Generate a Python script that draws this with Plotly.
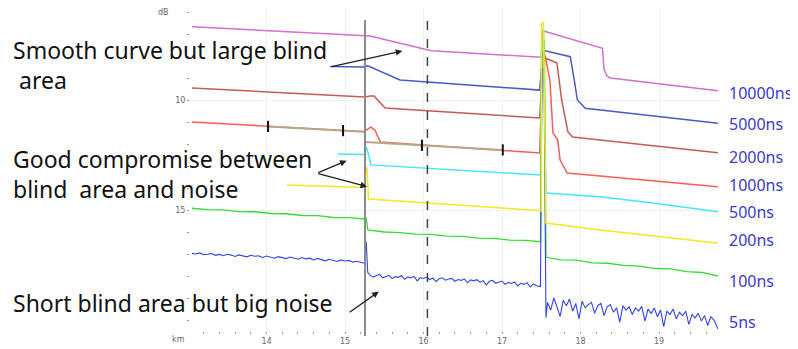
import plotly.graph_objects as go

# ---------------- data (km, dB) ----------------
km_10000 = [13.05, 15.25, 15.32, 16.10, 17.50, 17.515, 17.53, 18.28, 18.30, 18.34, 18.38, 19.75]
db_10000 = [6.67, 7.08, 7.09, 7.76, 8.06, 6.85, 6.86, 7.65, 8.60, 8.92, 9.00, 9.58]

km_5000 = [14.81, 15.22, 15.29, 15.70, 17.48, 17.52, 17.55, 17.87, 17.92, 17.96, 18.06, 19.75]
db_5000 = [8.48, 8.50, 8.45, 9.09, 9.55, 7.82, 7.76, 8.03, 9.09, 10.00, 10.38, 11.06]

km_2000 = [13.05, 15.25, 15.32, 15.37, 15.51, 17.48, 17.52, 17.55, 17.70, 17.76, 17.84, 17.90, 18.25, 19.75]
db_2000 = [9.45, 9.86, 9.82, 9.82, 10.36, 10.82, 8.18, 8.09, 8.32, 10.00, 11.45, 11.68, 11.82, 12.40]

km_1000 = [13.05, 15.25, 15.29, 15.33, 15.38, 15.45, 17.48, 17.52, 17.55, 17.61, 17.65, 17.71, 17.74, 17.83, 18.25, 19.75]
db_1000 = [11.00, 11.44, 11.32, 11.23, 11.36, 11.91, 12.41, 8.09, 8.00, 9.09, 11.50, 11.82, 12.73, 13.32, 13.45, 13.94]

km_marker = [14.02, 15.255, None, 15.255, 17.01]
db_marker = [11.20, 11.44, None, 11.91, 12.27]
km_marker_ticks = [14.02, 14.975, 15.98, 17.01]
db_marker_ticks = [11.20, 11.39, 12.06, 12.27]

km_500 = [14.91, 15.25, 15.27, 15.29, 15.33, 16.40, 17.49, 17.505, 17.53, 17.56, 18.25, 19.00, 19.75]
db_500 = [12.46, 12.48, 12.14, 12.36, 12.95, 13.18, 13.41, 6.82, 6.82, 14.23, 14.40, 14.72, 15.08]

km_200 = [14.26, 15.25, 15.265, 15.28, 15.30, 16.40, 17.50, 17.505, 17.53, 17.56, 18.25, 19.00, 19.75]
db_200 = [13.86, 13.98, 13.09, 13.09, 14.50, 14.77, 15.03, 6.50, 6.50, 15.59, 15.91, 16.20, 16.51]

km_100 = [13.05, 13.25, 13.45, 13.65, 13.85, 14.05, 14.25, 14.45, 14.65, 14.85, 15.05, 15.25,
          15.27, 15.29, 15.50, 15.70, 15.90, 16.10, 16.30, 16.50, 16.70, 16.90, 17.10, 17.30, 17.49,
          17.51, 17.54, 17.56, 17.75, 17.95, 18.15, 18.35, 18.55, 18.75, 18.95, 19.15, 19.35, 19.55, 19.75]
db_100 = [14.92, 14.98, 14.99, 15.07, 15.08, 15.16, 15.17, 15.25, 15.26, 15.34, 15.35, 15.41,
          15.35, 15.91, 16.00, 16.03, 16.10, 16.11, 16.19, 16.20, 16.28, 16.29, 16.37, 16.38, 16.44,
          7.30, 7.30, 17.15, 17.27, 17.28, 17.40, 17.42, 17.52, 17.55, 17.66, 17.68, 17.80, 17.84, 18.00]

km_5 = [13.05, 13.10, 13.15, 13.20, 13.25, 13.30, 13.35, 13.40, 13.45, 13.50, 13.55, 13.60, 13.65,
        13.70, 13.75, 13.80, 13.85, 13.90, 13.95, 14.00, 14.05, 14.10, 14.15, 14.20, 14.25, 14.30,
        14.35, 14.40, 14.45, 14.50, 14.55, 14.60, 14.65, 14.70, 14.75, 14.80, 14.85, 14.90, 14.95,
        15.00, 15.05, 15.10, 15.15, 15.20, 15.25,
        15.27, 15.29,
        15.32, 15.36, 15.40, 15.44, 15.48, 15.52, 15.56, 15.60, 15.64, 15.68, 15.72, 15.76, 15.80,
        15.84, 15.88, 15.92, 15.96, 16.00, 16.04, 16.08, 16.12, 16.16, 16.20, 16.24, 16.28, 16.32,
        16.36, 16.40, 16.44, 16.48, 16.52, 16.56, 16.60, 16.64, 16.68, 16.72, 16.76, 16.80, 16.84,
        16.88, 16.92, 16.96, 17.00, 17.04, 17.08, 17.12, 17.16, 17.20, 17.24, 17.28, 17.32, 17.36,
        17.40, 17.44, 17.49,
        17.51, 17.535, 17.56,
        17.58, 17.62, 17.66, 17.70, 17.74, 17.78, 17.82, 17.86, 17.90, 17.94, 17.98, 18.02, 18.06,
        18.10, 18.14, 18.18, 18.22, 18.26, 18.30, 18.34, 18.38, 18.42, 18.46, 18.50, 18.54, 18.58,
        18.62, 18.66, 18.70, 18.74, 18.78, 18.82, 18.86, 18.90, 18.94, 18.98, 19.02, 19.06, 19.10,
        19.14, 19.18, 19.22, 19.26, 19.30, 19.34, 19.38, 19.42, 19.46, 19.50, 19.54, 19.58, 19.62,
        19.66, 19.70, 19.75]
db_5 = [16.97, 17.00, 16.95, 17.03, 17.01, 16.98, 17.06, 17.02, 17.08, 17.01, 17.05, 17.11, 17.04,
        17.07, 17.13, 17.06, 17.10, 17.08, 17.16, 17.09, 17.13, 17.19, 17.12, 17.15, 17.21, 17.14,
        17.18, 17.24, 17.16, 17.22, 17.19, 17.27, 17.20, 17.25, 17.31, 17.24, 17.28, 17.34, 17.27,
        17.32, 17.29, 17.37, 17.33, 17.39, 17.42,
        16.45, 17.85,
        17.96, 18.05, 17.98, 17.93, 18.08, 18.01, 17.97, 18.12, 18.03, 18.06, 17.98, 18.15, 18.04,
        18.09, 18.02, 18.22, 18.07, 18.11, 18.05, 18.16, 18.09, 18.26, 18.12, 18.08, 18.19, 18.14,
        18.11, 18.24, 18.16, 18.20, 18.13, 18.31, 18.18, 18.22, 18.17, 18.28, 18.21, 18.40, 18.24,
        18.20, 18.33, 18.27, 18.23, 18.38, 18.29, 18.34, 18.27, 18.45, 18.33, 18.38, 18.30, 18.50,
        18.36, 18.44, 18.48,
        8.60, 8.60, 19.90,
        19.20, 19.55, 19.00, 19.40, 19.85, 19.10, 19.35, 19.05, 19.60, 19.25, 19.95, 19.15, 19.45,
        19.30, 19.20, 19.70, 19.35, 19.25, 19.80, 19.40, 19.30, 19.65, 19.45, 20.10, 19.35, 19.55,
        19.40, 19.75, 19.45, 19.60, 19.38, 20.05, 19.50, 19.70, 19.45, 19.85, 19.55, 20.30, 19.60,
        19.75, 19.50, 19.95, 19.65, 19.80, 19.60, 20.20, 19.75, 19.90, 19.70, 20.05, 19.80, 20.25,
        19.85, 20.00, 20.40]

pulse_labels = ["10000ns", "5000ns", "2000ns", "1000ns", "500ns", "200ns", "100ns", "5ns"]
label_db = [9.70, 11.08, 12.58, 13.86, 15.11, 16.36, 18.21, 20.08]

notes = ["Smooth curve but large blind<br>&nbsp;area",
         "Good compromise between<br>blind&nbsp; area and noise",
         "Short blind area but big noise"]

x_ticks = [14, 15, 16, 17, 18, 19]
y_ticks = [10, 15]
event_km = 15.255
marker_km = 16.05

# ---------------- layout geometry (screen px; page body has an 8px margin) ----------------
OFF = 8
FW, FH = 790, 341
SL, SR, ST, SB = 190, 720, 8, 331          # plot area in screen pixels
L, T = SL - OFF, ST - OFF
R = FW - (SR - OFF)
B = FH - (SB - OFF)
PW, PH = SR - SL, SB - ST


def px(x):
    return (x - SL) / PW


def py(y):
    return 1 - (y - ST) / PH


fig = go.Figure()


def add_line(xs, ys, color, width=1.5):
    fig.add_trace(go.Scatter(x=xs, y=ys, mode="lines", line=dict(color=color, width=width),
                             hoverinfo="skip", showlegend=False, connectgaps=False))


add_line(km_10000, db_10000, "#d070d0")
add_line(km_5000, db_5000, "#4a58c8")
add_line(km_2000, db_2000, "#c85a55")
add_line(km_1000, db_1000, "#ff5a5a")
add_line(km_marker, db_marker, "#b5a888", 2)
fig.add_trace(go.Scatter(x=km_marker_ticks, y=db_marker_ticks, mode="markers",
                         marker=dict(symbol="line-ns", size=8, line=dict(color="#111", width=2)),
                         hoverinfo="skip", showlegend=False))
add_line(km_500, db_500, "#44e6ff")
add_line(km_100, db_100, "#33dd33", 1.3)
add_line(km_5, db_5, "#3344ee", 1.1)
add_line(km_200, db_200, "#f5e81e")

# vertical lines
fig.add_shape(type="line", xref="x", yref="paper", x0=event_km, x1=event_km,
              y0=py(336), y1=py(20), line=dict(color="#8a8a8a", width=2))
fig.add_shape(type="line", xref="x", yref="paper", x0=marker_km, x1=marker_km,
              y0=py(336), y1=py(20), line=dict(color="#444", width=1.5, dash="dash"))

# right-side pulse labels
for lab, yv in zip(pulse_labels, label_db):
    fig.add_annotation(x=px(727), xref="paper", y=yv, yref="y", text=lab, showarrow=False,
                       xanchor="left", yanchor="middle",
                       font=dict(family="Noto Sans", size=16, color="#3a3ad0"))

txt_font = dict(family="Noto Sans", size=23, color="#111")
for t, yc in zip(notes, [65, 174, 303]):
    fig.add_annotation(x=px(11), y=py(yc), xref="paper", yref="paper", text=t, showarrow=False,
                       xanchor="left", yanchor="middle", align="left", font=txt_font)

# arrows (tail -> head, data units)
arrows = [((14.81, 8.50), (15.73, 7.77)),
          ((14.64, 13.33), (15.02, 12.76)),
          ((14.64, 13.33), (15.28, 13.94)),
          ((15.04, 19.70), (15.43, 18.71))]
for (tx, ty), (hx, hy) in arrows:
    fig.add_annotation(x=hx, y=hy, ax=tx, ay=ty, xref="x", yref="y", axref="x", ayref="y",
                       text="", showarrow=True, arrowhead=2, arrowsize=1, arrowwidth=1.3,
                       arrowcolor="#222")

small = dict(family="DejaVu Sans", size=8, color="#666")
fig.add_annotation(x=px(178), y=py(339), xref="paper", yref="paper", text="km", showarrow=False,
                   font=small, xanchor="center", yanchor="middle")
fig.add_annotation(x=px(171), y=py(13), xref="paper", yref="paper", text="dB", showarrow=False,
                   font=small, xanchor="right", yanchor="middle")

fig.update_layout(
    width=FW, height=FH, margin=dict(l=L, r=R, t=T, b=B),
    plot_bgcolor="white", paper_bgcolor="white", showlegend=False,
    xaxis=dict(range=[13.0255, 19.7771], tickvals=x_ticks, ticks="outside", ticklen=2,
               tickcolor="#999", showgrid=True, gridcolor="#f1f1f1", zeroline=False,
               showline=False, tickfont=small,
               minor=dict(dtick=0.2, tick0=0, ticks="outside", ticklen=2, tickcolor="#999",
                          showgrid=False)),
    yaxis=dict(range=[20.5, 5.818], tickvals=y_ticks, ticks="outside", ticklen=2,
               tickcolor="#999", showgrid=True, gridcolor="#f1f1f1", zeroline=False,
               showline=False, tickfont=small,
               minor=dict(dtick=1, tick0=0, ticks="outside", ticklen=2, tickcolor="#999",
                          showgrid=False)),
)

fig.write_html("out.html")
